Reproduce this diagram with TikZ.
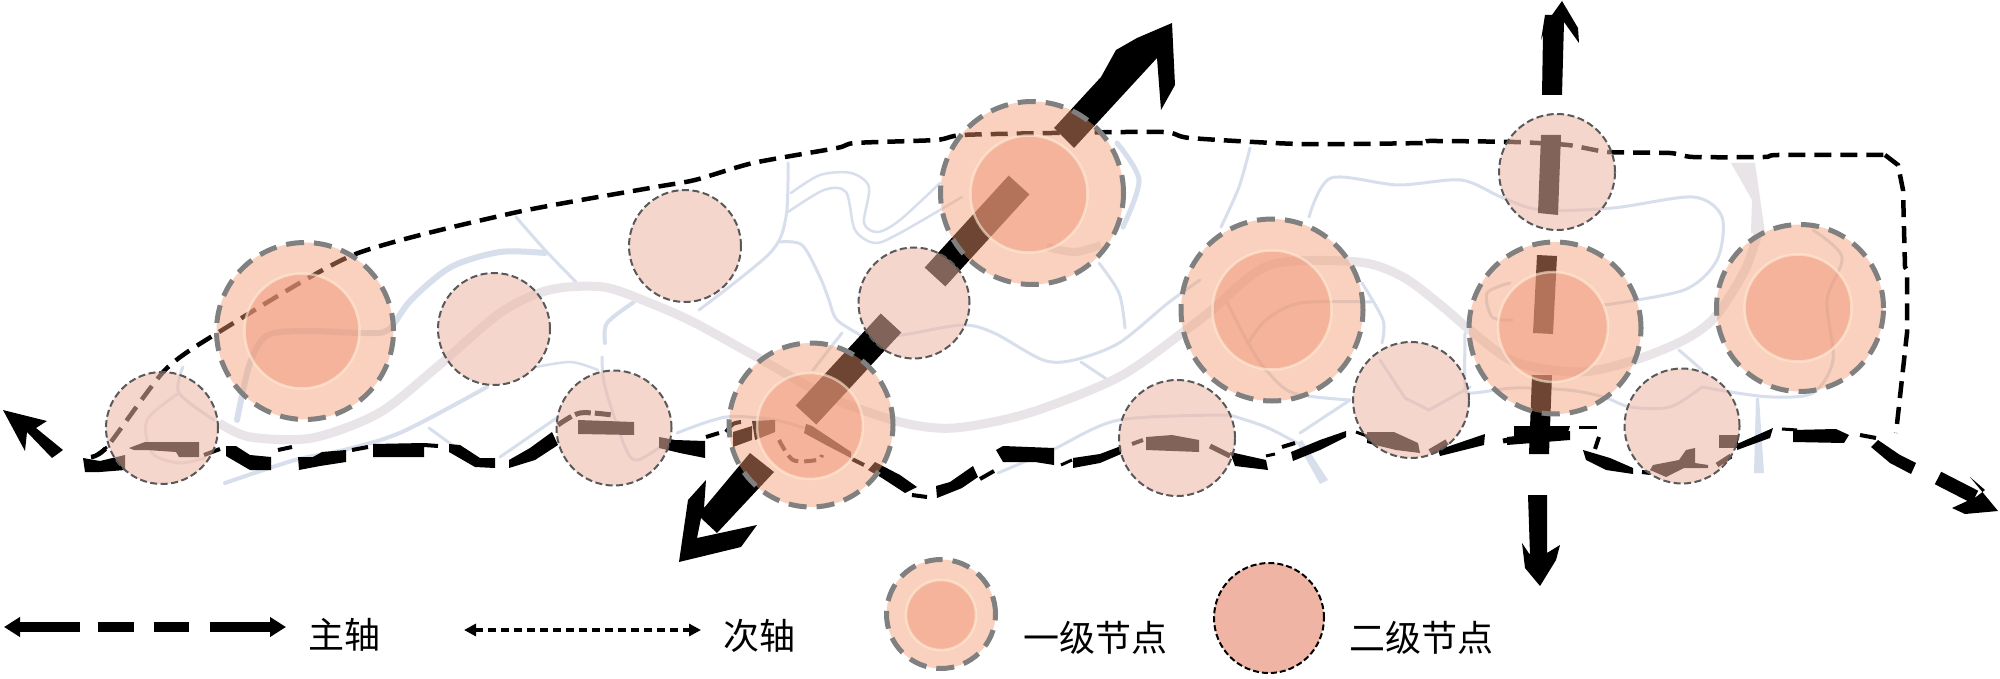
\documentclass[tikz,border=0pt]{standalone}
\usepackage{fontspec}
\newfontfamily\cjkfont{Noto Sans CJK SC}
\usetikzlibrary{arrows.meta}
\definecolor{riverblue}{RGB}{216,223,236}
\definecolor{riverpink}{RGB}{233,228,232}
\definecolor{secfill}{RGB}{237,182,164}
\definecolor{prifill}{RGB}{244,155,111}
\definecolor{innerfill}{RGB}{239,154,124}
\definecolor{innerring}{RGB}{255,238,216}
\definecolor{legendsec}{RGB}{240,180,165}
\tikzset{
  blueriver/.style={draw=riverblue,line width=#1,line cap=round,fill=none},
  pinkriver/.style={draw=riverpink,line width=#1,line cap=butt,fill=none},
  mainaxis/.style={draw=black,line width=#1,line cap=butt,line join=miter},
  minoraxis/.style={draw=black,line width=4.5pt,dash pattern=on 17pt off 9pt},
  secnode/.style={circle,inner sep=0pt,minimum size=#1,fill=secfill,fill opacity=.55,draw=black!65,draw opacity=1,line width=2pt,dash pattern=on 7pt off 3.5pt},
  prinode/.style={circle,inner sep=0pt,minimum size=#1,fill=prifill,fill opacity=.45,draw=black!50,draw opacity=1,line width=5pt,dash pattern=on 18pt off 10pt},
  innernode/.style={circle,inner sep=0pt,minimum size=#1,fill=innerfill,fill opacity=.54,draw=innerring,draw opacity=.6,line width=2.5pt},
  legendlabel/.style={font=\cjkfont\fontsize{36}{36}\selectfont,inner sep=0pt,anchor=center}
}
\begin{document}
\begin{tikzpicture}[x=1pt,y=-1pt]
\useasboundingbox[fill=white] (0,0) rectangle (2000,679);
% ---- rivers
\draw[blueriver=6pt] plot[smooth] coordinates {(237,420) (250,363) (268,335) (310,331) (362,333) (388,330) (411,300) (451,267) (500,252) (545,253)};
\draw[blueriver=3pt] plot[smooth] coordinates {(516,217) (545,250) (576,282)};
\draw[blueriver=4pt] plot[smooth] coordinates {(634,302) (607,323) (605,343)};
\draw[blueriver=3pt] plot[smooth] coordinates {(602,357) (605,387) (625,447) (638,460) (670,440)};
\draw[blueriver=2.5pt] plot[smooth] coordinates {(536,367) (571,362) (598,370)};
\draw[blueriver=4pt] plot[smooth] coordinates {(225,483) (295,460) (344,450) (402,432) (487,387)};
\draw[blueriver=3pt] (429,428) -- (455,447);
\draw[blueriver=3pt] (500,457) -- (558,417);
\draw[blueriver=3pt] plot[smooth] coordinates {(183,367) (179,393) (214,420)};
\draw[riverpink,line width=3pt] plot[smooth] coordinates {(179,393) (147,420) (152,453) (179,463) (205,458)};
\draw[blueriver=3pt] plot[smooth] coordinates {(788,163) (786,217) (770,253) (699,310)};
\draw[blueriver=2.5pt] plot[smooth] coordinates {(791,193) (820,175) (851,173) (869,187) (864,223) (878,232) (900,220) (940,183)};
\draw[blueriver=2.5pt] plot[smooth] coordinates {(788,212) (824,190) (846,192) (855,230) (875,243) (900,233) (962,197)};
\draw[blueriver=3pt] plot[smooth] coordinates {(779,242) (802,245) (820,277) (829,300) (837,320) (864,337)};
\draw[blueriver=3pt] plot[smooth] coordinates {(864,337) (902,335) (962,325) (994,333) (1043,360) (1074,360) (1119,343) (1168,303) (1200,280)};
\draw[blueriver=3pt] plot[smooth] coordinates {(1081,362) (1108,380)};
\draw[blueriver=3pt] plot[smooth] coordinates {(1099,263) (1119,293) (1125,328)};
\draw[blueriver=3pt] plot[smooth] coordinates {(1250,148) (1239,187) (1221,227)};
\draw[blueriver=5pt] plot[smooth,tension=.5] coordinates {(1117,143) (1139,180) (1123,227)};
\draw[blueriver=3pt] plot[smooth] coordinates {(1230,415) (1119,420) (1052,450) (998,473)};
\draw[blueriver=3pt] plot[smooth] coordinates {(677,433) (726,417) (775,420) (804,428)};
\draw[blueriver=3pt] (842,333) -- (813,370);
\draw[blueriver=3pt] plot[smooth] coordinates {(1230,415) (1266,427) (1297,443)};
\draw[fill=riverblue,draw=none] (1297,443) -- (1302,440) -- (1328,480) -- (1320,484) -- cycle;
\draw[blueriver=3pt] (1350,400) -- (1300,433);
\draw[blueriver=3pt] plot[smooth] coordinates {(1226,300) (1248,343) (1266,370) (1293,393) (1350,400)};
\draw[blueriver=3pt] plot[smooth] coordinates {(1248,343) (1266,320) (1300,303) (1371,302)};
\draw[blueriver=3pt] plot[smooth] coordinates {(1309,217) (1331,178) (1398,185) (1461,180) (1501,197) (1541,210) (1613,208) (1693,197) (1722,217) (1717,260) (1684,290) (1604,305)};
\draw[blueriver=3pt] plot[smooth] coordinates {(1362,283) (1383,320) (1382,343)};
\draw[blueriver=3pt] plot[smooth] coordinates {(1510,283) (1487,293) (1492,317) (1512,320)};
\draw[blueriver=3pt] plot[smooth] coordinates {(1465,333) (1465,383) (1470,393) (1514,388) (1568,390) (1604,397) (1630,407) (1670,407) (1702,387)};
\draw[blueriver=3pt] plot[smooth] coordinates {(1702,387) (1737,393) (1773,397) (1813,393) (1833,360) (1827,300) (1842,257) (1813,230)};
\draw[blueriver=3pt] (1679,350) -- (1702,370);
\draw[fill=riverblue,draw=none] (1756,398) -- (1759,398) -- (1764,473) -- (1754,473) -- cycle;
\draw[blueriver=3pt] (1380,360) -- (1405,398) -- (1429,410) -- (1470,387);
% ---- thick pink river
\draw[pinkriver=9pt] plot[smooth] coordinates {(219,423) (250,437) (312,438) (379,413) (437,367) (500,313) (549,290) (603,287) (650,303) (695,323) (762,360) (829,397) (900,422) (954,428) (1029,413) (1119,377) (1186,330) (1212,310) (1270,265) (1358,262) (1403,277) (1443,307) (1470,330) (1515,362) (1580,372) (1635,360) (1684,340) (1715,317) (1745,270) (1758,233)};
\fill[riverpink] (1731,163) -- (1755,163) -- (1765,233) -- (1751,233) -- (1752,200) -- cycle;
\draw[pinkriver=8pt] plot[smooth] coordinates {(1047,247) (1075,252) (1101,245)};
% ---- secondary axis
\draw[minoraxis] plot[smooth,tension=.4] coordinates {(91,457) (107,447) (165,370) (219,332) (353,255) (513,213) (650,188) (695,180) (753,163) (837,148) (855,143) (936,140) (962,135) (1052,133) (1163,132) (1190,138) (1300,144) (1423,143) (1429,141) (1514,142) (1568,145) (1608,152) (1670,153) (1693,157) (1764,157) (1778,155) (1885,155)};
\draw[minoraxis] (1885,155) -- (1898,165) -- (1903,190) -- (1905,267) -- (1907,270) -- (1907,333) -- (1896,433);
% ---- main axis, broken and rough
\fill[black] (83,458) -- (100,461) -- (125,455) -- (125,470) -- (100,472) -- (85,472) -- cycle;
\draw[mainaxis=3pt] (92,458) -- (107,447);
\fill[black] (129,448) -- (145,442) -- (199,442) -- (199,457) -- (179,457) -- (176,452) -- (147,450) -- (134,450) -- cycle;
\draw[mainaxis=4pt] (204,455) -- (220,449);
\fill[black] (226,446) -- (236,446) -- (250,455) -- (271,457) -- (271,470) -- (250,470) -- (226,456) -- cycle;
\draw[mainaxis=4pt] (278,450) -- (292,447);
\fill[black] (298,457) -- (313,457) -- (322,452) -- (346,450) -- (346,462) -- (320,466) -- (299,470) -- cycle;
\draw[mainaxis=4pt] (352,450) -- (368,447);
\fill[black] (373,444) -- (424,443) -- (424,457) -- (373,457) -- cycle;
\draw[mainaxis=4pt] (424,445) -- (438,446);
\fill[black] (449,444) -- (460,445) -- (480,458) -- (495,458) -- (495,468) -- (475,467) -- (449,452) -- cycle;
\fill[black] (509,460) -- (530,448) -- (552,432) -- (558,445) -- (535,460) -- (509,468) -- cycle;
\draw[mainaxis=5pt,dash pattern=on 16pt off 4pt] plot[smooth] coordinates {(558,425) (580,413) (612,415)};
\fill[black] (578,420) -- (634,422) -- (634,435) -- (578,434) -- cycle;
\fill[black] (659,437) -- (675,440) -- (705,441) -- (705,458) -- (680,453) -- (659,448) -- cycle;
\draw[mainaxis=4pt] (706,437) -- (719,433);
\draw[mainaxis=4pt] plot[smooth] coordinates {(726,432) (733,424) (741,422)};
\fill[black] (733,432) -- (752,426) -- (752,440) -- (733,447) -- cycle;
\fill[black] (752,421) -- (775,420) -- (775,432) -- (755,440) -- cycle;
\draw[mainaxis=4pt,dash pattern=on 12pt off 6pt] plot[smooth] coordinates {(779,440) (793,460) (817,460) (822,455)};
\fill[black] (806,424) -- (812,426) -- (851,452) -- (851,458) -- (826,445) -- (804,433) -- cycle;
\draw[mainaxis=4pt] (852,459) -- (864,465);
\fill[black] (868,470) -- (875,462) -- (900,475) -- (917,487) -- (905,493) -- (882,478) -- cycle;
\draw[mainaxis=4pt] (912,495) -- (927,497);
\fill[black] (936,486) -- (950,482) -- (973,466) -- (978,477) -- (962,488) -- (937,498) -- cycle;
\draw[mainaxis=4pt] (980,479) -- (994,471);
\fill[black] (996,450) -- (1003,446) -- (1054,448) -- (1054,465) -- (1035,462) -- (1003,462) -- cycle;
\draw[mainaxis=3pt] (1061,465) -- (1072,460);
\fill[black] (1073,458) -- (1100,454) -- (1121,446) -- (1121,454) -- (1100,463) -- (1073,468) -- cycle;
\draw[mainaxis=4pt] (1132,444) -- (1143,440);
\fill[black] (1146,437) -- (1172,435) -- (1199,440) -- (1199,452) -- (1146,450) -- cycle;
\draw[mainaxis=5pt] (1210,446) -- (1230,456);
\fill[black] (1230,452) -- (1266,460) -- (1268,470) -- (1235,466) -- cycle;
\draw[mainaxis=3pt] (1266,456) -- (1275,454);
\draw[mainaxis=4pt] (1282,447) -- (1295,443);
\fill[black] (1291,452) -- (1320,440) -- (1346,431) -- (1346,437) -- (1320,450) -- (1293,461) -- cycle;
\draw[mainaxis=3pt] (1356,432) -- (1367,436);
\fill[black] (1367,432) -- (1394,432) -- (1418,443) -- (1420,453) -- (1396,450) -- (1367,443) -- cycle;
\draw[mainaxis=6pt] (1430,452) -- (1447,442);
\fill[black] (1438,450) -- (1485,434) -- (1484,445) -- (1440,456) -- cycle;
\draw[mainaxis=5pt] (1503,441) -- (1530,436);
\fill[black] (1514,426) -- (1570,426) -- (1566,438) -- (1514,436) -- cycle;
\draw[mainaxis=3pt] (1579,427) -- (1597,427);
\draw[mainaxis=4pt] (1599,437) -- (1595,449);
\fill[black] (1583,450) -- (1610,458) -- (1633,468) -- (1633,474) -- (1606,470) -- (1586,460) -- cycle;
\draw[mainaxis=4pt] (1642,472) -- (1650,473);
\fill[black] (1653,465) -- (1679,460) -- (1686,450) -- (1695,448) -- (1695,463) -- (1708,465) -- (1708,468) -- (1684,468) -- (1666,477) -- (1650,470) -- cycle;
\draw[mainaxis=5pt] (1717,465) -- (1731,456);
\fill[black] (1719,435) -- (1738,435) -- (1738,448) -- (1719,448) -- cycle;
\fill[black] (1737,444) -- (1773,428) -- (1770,438) -- (1737,450) -- cycle;
\draw[mainaxis=3pt] (1782,429) -- (1797,430);
\fill[black] (1793,430) -- (1836,429) -- (1849,435) -- (1844,443) -- (1793,442) -- cycle;
\draw[mainaxis=4pt] (1860,435) -- (1876,438);
\fill[black] (1871,447) -- (1878,440) -- (1900,455) -- (1916,463) -- (1911,474) -- (1890,463) -- cycle;
\draw[mainaxis=14pt] (1938,478) -- (1975,497);
\fill[black] (1998,511) -- (1970,477) -- (1985,490) -- (1976,497) -- (1952,508) -- (1965,514) -- cycle;
% ---- left arrow
\fill[black] (3,410) -- (47,421) -- (36,428) -- (63,450) -- (52,458) -- (27,432) -- (25,451) -- cycle;
% ---- cross axes
\fill[black] (1054,128) -- (1101,77) -- (1116,50) -- (1137,38) -- (1172,23) -- (1175,85) -- (1161,110) -- (1157,58) -- (1074,148) -- cycle;
\draw[mainaxis=28pt] (935,277) -- (1019,185);
\draw[mainaxis=28pt] (891,323) -- (806,415);
\fill[black] (750,453) -- (704,508) -- (706,480) -- (688,500) -- (679,562) -- (741,547) -- (757,525) -- (697,538) -- (701,518) -- (717,533) -- (774,472) -- cycle;
\fill[black] (1542,95) -- (1562,95) -- (1564,22) -- (1579,43) -- (1578,28) -- (1562,1) -- (1552,15) -- (1545,15) -- (1541,40) -- (1543,34) -- cycle;
\fill[black] (1541,135) -- (1561,135) -- (1558,215) -- (1538,213) -- cycle;
\fill[black] (1537,255) -- (1557,256) -- (1553,334) -- (1533,333) -- cycle;
\fill[black] (1532,375) -- (1552,375) -- (1549,454) -- (1529,454) -- cycle;
\fill[black] (1528,495) -- (1547,495) -- (1547,553) -- (1560,545) -- (1556,560) -- (1540,586) -- (1525,568) -- (1522,543) -- (1530,555) -- cycle;
\fill[black] (1507,437) -- (1570,431) -- (1570,440) -- (1507,445) -- cycle;
% ---- nodes
\node[secnode=112pt] (n1) at (162,428) {};
\node[secnode=112pt] (n2) at (494,329) {};
\node[secnode=115pt] (n3) at (614,428) {};
\node[secnode=112pt] (n4) at (685,246) {};
\node[secnode=111pt] (n5) at (914,303) {};
\node[secnode=116pt] (n6) at (1177,438) {};
\node[secnode=116pt] (n7) at (1411,400) {};
\node[secnode=116pt] (n8) at (1557,172) {};
\node[secnode=115pt] (n9) at (1682,426) {};
\node[prinode=177pt] (p1) at (305,331) {};
\node[innernode=115pt] (q1) at (302,331) {};
\node[prinode=183pt] (p2) at (1032,193) {};
\node[innernode=117pt] (q2) at (1029,194) {};
\node[prinode=164pt] (p3) at (811,425) {};
\node[innernode=106pt] (q3) at (810,426) {};
\node[prinode=182pt] (p4) at (1272,310) {};
\node[innernode=119pt] (q4) at (1272,310) {};
\node[prinode=172pt] (p5) at (1555,328) {};
\node[innernode=110pt] (q5) at (1553,327) {};
\node[prinode=167pt] (p6) at (1800,308) {};
\node[innernode=107pt] (q6) at (1798,308) {};
% ---- legend
\coordinate (la) at (4,627); \coordinate (lb) at (80,627);
\coordinate (lc) at (210,627); \coordinate (ld) at (286,627);
\draw[mainaxis=10pt,{Triangle[length=16pt,width=19pt]}-] (la) -- (lb);
\fill[black] (98,622) rectangle (134,632);
\fill[black] (154,622) rectangle (189,632);
\draw[mainaxis=10pt,-{Triangle[length=16pt,width=19pt]}] (lc) -- (ld);
\coordinate (le) at (464,630); \coordinate (lf) at (701,630);
\draw[draw=black,line width=4.5pt,dash pattern=on 8pt off 5pt,{Triangle[length=12pt,width=12pt]}-{Triangle[length=12pt,width=12pt]}] (le) -- (lf);
\node[legendlabel] (t1) at (344,635) {主轴};
\node[legendlabel] (t2) at (759,636) {次轴};
\node[prinode=109pt] (lp) at (941,614) {};
\node[innernode=70pt] (lq) at (941,615) {};
\node[legendlabel] (t3) at (1095,638) {一级节点};
\node[circle,inner sep=0pt,minimum size=110pt,fill=legendsec,draw=black,line width=2pt,dash pattern=on 6pt off 3pt] (ls) at (1269,618) {};
\node[legendlabel] (t4) at (1421,638) {二级节点};
\end{tikzpicture}
\end{document}
